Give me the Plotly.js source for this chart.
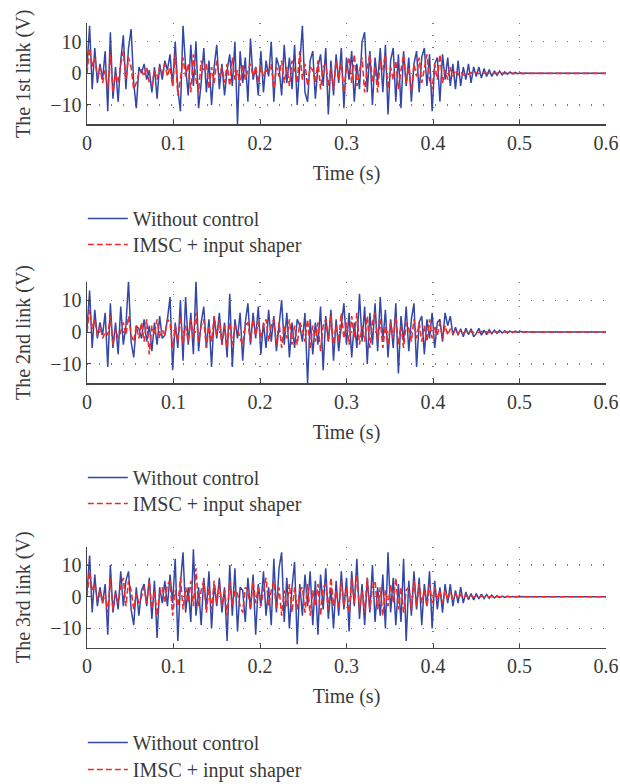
<!DOCTYPE html>
<html><head><meta charset="utf-8">
<script src="https://cdn.plot.ly/plotly-3.0.1.min.js"></script>
<style>body{margin:0;padding:0;background:#fff}#chart{width:620px;height:784px}</style>
</head><body><div id="chart"></div>
<script>
// sample step (s); last sample of every series is at 0.6 s
var dt = 0.003;
var tEnd = 0.6;
var seriesNames = ["Without control", "IMSC + input shaper"];
var yTitles = ["The 1st link (V)", "The 2nd link (V)", "The 3rd link (V)"];
var xTitle = "Time (s)";
var xTicks = [0, 0.1, 0.2, 0.3, 0.4, 0.5, 0.6];
var yTicks = [-10, 0, 10];

// link 1
var blue1 = [
 2, 15, -5, 8, -3, 3, -2, 7, -12, 13,
 -8, 2, -9, 4, 12, -5, 8, 14, -3, -11,
 2, 0, 3, -2, 1, -6, 2, -8, 3, -2,
 4, 1, 6, -4, 10, -5, -12, 15, 2, -7,
 9, -4, 10, -11, -3, 8, -6, 4, -10, 2,
 9, -5, 3, -7, 1, 6, -4, 10, -16, 7,
 -3, 5, -9, 11, -2, 2, -7, 7, -6, 4,
 -1, 10, -9, 5, 2, -7, 9, -3, 5, -5,
 9, -10, 3, 15, -6, -9, 4, 7, -8, 2,
 6, -4, 8, -13, 4, -7, 6, -3, 8, -11,
 5, -2, 7, -9, 3, -5, 10, 13, -6, 7,
 -10, 5, -3, 8, -6, 9, -13, 4, 8, -9,
 6, -11, 7, -4, 5, -9, 3, 7, -6, 5,
 8, -4, 6, -12, 3, 5, -9, 6, -2, 5,
 -4, 3, -5, 4, -4, 2, -2, 3, -3, 2,
 -1, 2, -1.5, 1.5, -1, 1.2, -1, 0.8, -0.6, 0.7,
 -0.5, 0.5, -0.3, 0.4, -0.2, 0.3, -0.1, 0.2, -0.1, 0.1,
 0, 0];
var red1 = [
 0, 8, 2, 5, -1, 2, -3, 1, -5, 6,
 -6, 0, -3, 3, 7, -2, 5, 2, -5, -3,
 0, 1, -1, 2, -3, -4, 1, -2, 2, 0,
 3, -1, 2, -4, 6, -7, -2, 5, -1, 3,
 -6, 6, -2, -6, 4, 1, 3, -5, 2, -3,
 4, -1, 2, -3, 3, -4, 5, -2, 1, -4,
 3, -2, 1, 3, -1, 2, -3, 2, -1, 1,
 0, 3, -5, 2, -1, 4, -3, 2, -4, 4,
 1, -3, 7, -2, 3, -4, 2, 1, -3, 4,
 -5, 2, 3, -4, 2, -5, 4, -2, 3, -6,
 2, 5, -3, 6, -4, 1, 5, -6, 2, 6,
 -3, 2, -6, 4, 1, 6, -5, 2, -2, 4,
 -5, 1, 6, -3, 2, -6, 3, -1, 5, -3,
 2, 6, -2, -5, 3, -2, 6, -3, 1, -2,
 2, -1, 1, -0.5, 0.5, -0.5, 0.3, -0.3, 0.3, -0.2,
 0.2, -0.1, 0.1, 0, 0, 0, 0, 0, 0, 0,
 0, 0, 0, 0, 0, 0, 0, 0, 0, 0,
 0, 0];

// link 2
var blue2 = [
 1, 13, -5, 7, -2, 3, -1, 6, -11, 9,
 -5, 3, -7, 8, -4, 2, 16, -3, -8, 2,
 1, -2, 4, -3, 2, -6, 3, -4, 5, -2,
 -1, 4, 11, -12, 3, -5, 10, -9, 11, -4,
 6, -7, 16, -6, 3, 8, -5, 4, -11, 5,
 -2, 6, -4, 3, -8, 12, -11, 4, -2, 6,
 -9, 3, 9, -4, 6, -2, 8, -7, 3, -5,
 7, -3, 5, -6, 2, 10, -4, 6, -8, 3,
 -5, 4, 2, -3, 6, -16, 4, -7, 3, -4,
 8, -12, 5, -3, 7, -9, 4, -6, 2, 9,
 -4, 6, -8, 3, -5, 12, -3, 8, -10, 6,
 -4, 9, -6, 11, -3, 7, -8, 4, -5, 9,
 -13, 5, -3, 8, -6, 4, 9, -11, 3, 5,
 -7, 4, -2, 6, -5, 3, 4, -3, 6, 2,
 5, -1, 1.5, -1, 1, -1.5, 1.2, -0.8, 1, -1.5,
 -0.5, 1.2, -1, 0.6, -0.8, 0.7, -0.5, 0.6, -0.4, 0.5,
 -0.3, 0.4, -0.3, 0.3, -0.2, 0.3, -0.1, 0.2, -0.1, 0.1,
 0, 0];
var red2 = [
 0, 7, 1, 4, -1, 2, -2, 0, -1, 5,
 -4, 1, -2, 0, 3, -1, 5, -1, -3, 2,
 -2, 3, -3, 4, -7, 2, -1, 4, -2, 1,
 -1, 4, 3, -5, 2, -3, 5, -4, 2, -3,
 4, -2, 6, -3, 2, 4, -5, 2, -3, 5,
 -1, 4, -4, 2, -5, 3, -4, 2, 1, -2,
 -4, 2, 3, -3, 4, -1, 3, -2, 2, 4,
 -3, 2, 4, -4, 3, -5, 2, -2, 4, -4,
 2, -4, 3, 1, -3, 4, -5, 2, -3, 3,
 -6, 2, 4, -3, 5, -4, 2, -3, 6, -2,
 3, -4, 5, -2, 6, -4, 2, -3, 5, -5,
 3, 6, -3, 4, -5, 2, -4, 3, -2, 5,
 -4, 2, -5, 3, 1, -3, 4, -2, 3, -3,
 2, -3, 4, -2, 2, -1, 3, -2, 2, -1,
 1, -0.5, 0.8, -0.5, 0.5, -0.5, 0.3, -0.3, 0.3, -0.2,
 0.2, -0.2, 0.2, -0.1, 0.1, -0.1, 0.1, 0, 0, 0,
 0, 0, 0, 0, 0, 0, 0, 0, 0, 0,
 0, 0];

// link 3
var blue3 = [
 1, 13, -5, 7, -3, 3, -2, 4, -12, 10,
 -5, 2, -4, 8, -3, 5, 8, -4, -9, 3,
 -6, 2, 4, -3, 6, -7, 5, -13, 3, -2,
 5, -3, 7, -2, 12, -14, 4, 14, -5, 3,
 -8, 15, -6, 3, -9, 6, -4, 8, -10, 4,
 -3, 6, -5, 3, -14, 10, -6, 9, -11, 3,
 2, -8, 6, -4, 7, -12, 4, -3, 8, -6,
 3, -9, 12, -5, 9, 14, -8, 6, -10, 3,
 11, -15, 4, -6, 7, -3, 8, -9, 5, -12,
 7, -4, 9, -7, 3, -10, 5, -6, 8, -4,
 6, -11, 8, -3, 12, -7, 4, -9, 6, -5,
 10, -8, 3, -6, 7, -10, 14, -5, 6, -9,
 4, -8, 12, -14, 5, -6, 8, -4, 6, -9,
 4, -3, 8, -10, 5, -4, 3, -5, 4, -2,
 4, -3, 2, -2, 3, -2, 1.5, -1, 1, -1,
 1, -0.7, 0.8, -0.6, 0.7, -0.5, 0.5, -0.4, 0.3, -0.3,
 0.2, -0.2, 0.2, -0.1, 0.1, -0.1, 0.1, 0, 0, 0,
 0, 0];
var red3 = [
 0, 8, 2, 4, -1, 2, -2, 1, -5, 6,
 -4, 1, -2, 3, 6, -3, 5, 2, -4, 1,
 -2, 0, 3, -2, 5, -4, 2, -6, 1, 3,
 -2, 4, 5, -6, 2, -3, 6, -4, 3, -2,
 5, -3, 9, -3, 2, 5, -5, 3, -4, 5,
 -2, 4, -3, 2, -6, 5, -3, 2, 1, -3,
 -5, 3, 2, -4, 5, -2, 3, -3, 2, 6,
 -3, 2, 5, -4, 3, -6, 2, -3, 4, -5,
 3, -4, 2, 3, -5, 4, -6, 2, -3, 4,
 -6, 3, 4, -4, 6, -3, 2, -4, 5, -3,
 3, -5, 6, -2, 7, -4, 2, -5, 6, -4,
 3, 5, -4, 3, -6, 2, -3, 4, -2, 6,
 -4, 3, -5, 2, 3, -4, 5, -3, 4, -2,
 2, -3, 4, -2, 3, -1, 2, -2, 2, -1,
 1.5, -0.8, 1, -0.6, 0.6, -0.5, 0.4, -0.3, 0.3, -0.2,
 0.2, -0.2, 0.2, -0.1, 0.1, -0.1, 0.1, 0, 0, 0,
 0, 0, 0, 0, 0, 0, 0, 0, 0, 0,
 0, 0];

function timeOf(arr) {
  var t = [];
  for (var i = 0; i < arr.length - 1; i++) t.push(+(i * dt).toFixed(4));
  t.push(tEnd);
  return t;
}

var BLUE = '#3347a6', RED = '#ee2b2b', TXT = '#3a3a3a';
var FONT = 'Liberation Serif, Times New Roman, serif';
var FS = 20;
var blues = [blue1, blue2, blue3], reds = [red1, red2, red3];
var H = 784;
var plots = [[23.3, 124.3], [281.7, 383.3], [546.7, 647.7]];
// vertical centre of each legend entry (px from top): [blue, red]
var legCenters = [[219, 245], [478, 504], [743, 770]];

var data = [];
var layout = {
  width: 620, height: 784, paper_bgcolor: '#fff', plot_bgcolor: '#fff',
  margin: {l: 87, r: 14, t: 0, b: 0, autoexpand: false}, showlegend: true,
  font: {family: FONT, size: FS, color: TXT}
};
function legName(n) { return n === 1 ? 'legend' : 'legend' + n; }
function mkLegend(centerPx) {
  return {
    x: -0.008, xanchor: 'left', y: 1 - (centerPx - 20) / H, yanchor: 'top',
    bgcolor: 'rgba(0,0,0,0)', font: {family: FONT, size: FS, color: TXT},
    itemwidth: 40
  };
}
for (var k = 0; k < 3; k++) {
  var sfx = k === 0 ? '' : String(k + 1);
  var lb = 2 * k + 1, lr = 2 * k + 2;
  data.push({x: timeOf(blues[k]), y: blues[k], type: 'scatter', mode: 'lines',
    name: seriesNames[0], xaxis: 'x' + sfx, yaxis: 'y' + sfx, legend: legName(lb),
    line: {color: BLUE, width: 1.5}});
  data.push({x: timeOf(reds[k]), y: reds[k], type: 'scatter', mode: 'lines',
    name: seriesNames[1], xaxis: 'x' + sfx, yaxis: 'y' + sfx, legend: legName(lr),
    line: {color: RED, width: 1.6, dash: '6px,3px'}});
  layout[legName(lb)] = mkLegend(legCenters[k][0]);
  layout[legName(lr)] = mkLegend(legCenters[k][1]);

  var axisCommon = {
    showline: true, linecolor: '#444', linewidth: 1.5, mirror: false,
    ticks: 'inside', ticklen: 4, tickcolor: '#444', tickwidth: 1,
    showgrid: true, gridcolor: '#777', gridwidth: 1.3, griddash: '1px,11px',
    zeroline: false, automargin: false, tickfont: {family: FONT, size: FS, color: TXT}
  };
  layout['xaxis' + sfx] = Object.assign({}, axisCommon, {
    anchor: 'y' + sfx, range: [0, 0.6], tickvals: xTicks, ticktext: xTicks.map(String),
    domain: [0, 1],
    title: {text: xTitle, font: {family: FONT, size: FS, color: TXT}, standoff: 13}
  });
  layout['yaxis' + sfx] = Object.assign({}, axisCommon, {
    anchor: 'x' + sfx, range: [-16.1, 15.8], tickvals: yTicks,
    domain: [1 - plots[k][1] / H, 1 - plots[k][0] / H],
    title: {text: yTitles[k], font: {family: FONT, size: FS, color: TXT}, standoff: 14}
  });
}
Plotly.newPlot('chart', data, layout, {staticPlot: true, displayModeBar: false});
</script></body></html>
